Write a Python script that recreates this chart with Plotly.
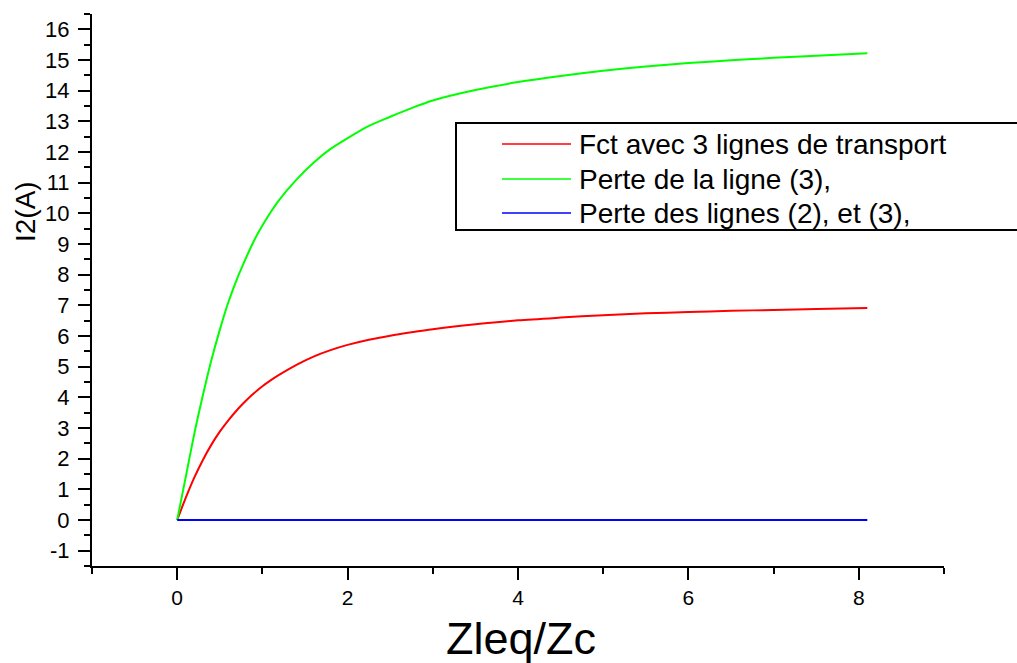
import plotly.graph_objects as go

# Abscissa: Zleq/Zc
x_vals = [0, 0.1, 0.2, 0.3, 0.4, 0.5, 0.6, 0.7, 0.8, 0.9, 1.0, 1.1, 1.2, 1.4, 1.6, 1.8,
          2.0, 2.25, 2.5, 2.75, 3.0, 3.5, 4.0, 4.5, 5.0, 5.5, 6.0, 6.5, 7.0, 7.5, 8.1]

# I2 (A) for each operating case
i2_three_lines = [0, 0.72, 1.38, 1.95, 2.45, 2.88, 3.25, 3.58, 3.87, 4.13, 4.36, 4.56, 4.74,
                  5.06, 5.33, 5.54, 5.71, 5.88, 6.01, 6.12, 6.22, 6.38, 6.51, 6.6, 6.68,
                  6.74, 6.78, 6.82, 6.85, 6.88, 6.91]
i2_loss_line3 = [0, 1.4, 2.8, 4.05, 5.2, 6.2, 7.1, 7.85, 8.5, 9.1, 9.6, 10.05, 10.45, 11.1,
                 11.65, 12.1, 12.45, 12.85, 13.15, 13.43, 13.68, 14.02, 14.28, 14.48, 14.65,
                 14.79, 14.9, 14.99, 15.07, 15.14, 15.22]
i2_loss_lines23 = [0] * len(x_vals)

series_names = ["Fct avec 3 lignes de transport",
                "Perte de la ligne (3),",
                "Perte des lignes (2), et (3),"]
series_values = [i2_three_lines, i2_loss_line3, i2_loss_lines23]
series_colors = ["#FF0000", "#00FF00", "#0000FF"]

x_tick_vals = [0, 2, 4, 6, 8]
y_tick_vals = list(range(-1, 17))
y_tick_text = [str(v) for v in y_tick_vals]  # plain hyphen for negatives

FONT = "Liberation Sans, Arial, sans-serif"
W, H = 1017, 663
L, R, T, B = 92, 73, 14, 97
PW, PH = W - L - R, H - T - B


def px_x(p):
    return (p - L) / PW


def px_y(p):
    return (H - B - p) / PH


fig = go.Figure()
for name, vals, col in zip(series_names, series_values, series_colors):
    fig.add_trace(go.Scatter(x=x_vals, y=vals, mode="lines", name=name,
                             line=dict(color=col, width=2, shape="spline", smoothing=0.8),
                             showlegend=False))

# Legend drawn as a framed box with sample lines and labels
shapes = [dict(type="rect", xref="paper", yref="paper",
               x0=px_x(456), x1=px_x(1030), y0=px_y(230), y1=px_y(123),
               line=dict(color="black", width=2), fillcolor="white", layer="above")]
annotations = []
row_y = [144, 179, 213]
for name, col, ry in zip(series_names, series_colors, row_y):
    shapes.append(dict(type="line", xref="paper", yref="paper",
                       x0=px_x(502), x1=px_x(571), y0=px_y(ry), y1=px_y(ry),
                       line=dict(color=col, width=1.5), layer="above"))
    annotations.append(dict(text=name, xref="paper", yref="paper",
                            x=px_x(577), y=px_y(ry), xanchor="left", yanchor="middle",
                            showarrow=False, font=dict(family=FONT, size=28, color="black")))

annotations.append(dict(text="I2(A)", xref="paper", yref="paper",
                        x=px_x(25), y=px_y(212), textangle=-90,
                        xanchor="center", yanchor="middle", showarrow=False,
                        font=dict(family=FONT, size=28, color="black")))
annotations.append(dict(text="Zleq/Zc", xref="paper", yref="paper",
                        x=px_x(521), y=px_y(638),
                        xanchor="center", yanchor="middle", showarrow=False,
                        font=dict(family=FONT, size=45, color="black")))

fig.update_layout(
    width=W, height=H,
    margin=dict(l=L, r=R, t=T, b=B),
    paper_bgcolor="white", plot_bgcolor="white",
    showlegend=False,
    shapes=shapes, annotations=annotations,
    font=dict(family=FONT, color="black"),
)
fig.update_xaxes(
    range=[-1, 9], tickvals=x_tick_vals, ticks="outside", ticklen=12, tickwidth=2,
    tickcolor="black", showline=True, linecolor="black", linewidth=2,
    showgrid=False, zeroline=False, tickfont=dict(family=FONT, size=21),
    minor=dict(dtick=1, tick0=1, ticks="outside", ticklen=6, tickwidth=2,
               tickcolor="black", showgrid=False),
)
fig.update_yaxes(
    range=[-1.5, 16.5], tickvals=y_tick_vals, ticktext=y_tick_text,
    ticks="outside", ticklen=12, tickwidth=2,
    tickcolor="black", showline=True, linecolor="black", linewidth=2,
    showgrid=False, zeroline=False, tickfont=dict(family=FONT, size=22),
    ticklabelstandoff=4,
    minor=dict(dtick=0.5, tick0=-1.5, ticks="outside", ticklen=6, tickwidth=2,
               tickcolor="black", showgrid=False),
)

fig.write_html("out.html")
